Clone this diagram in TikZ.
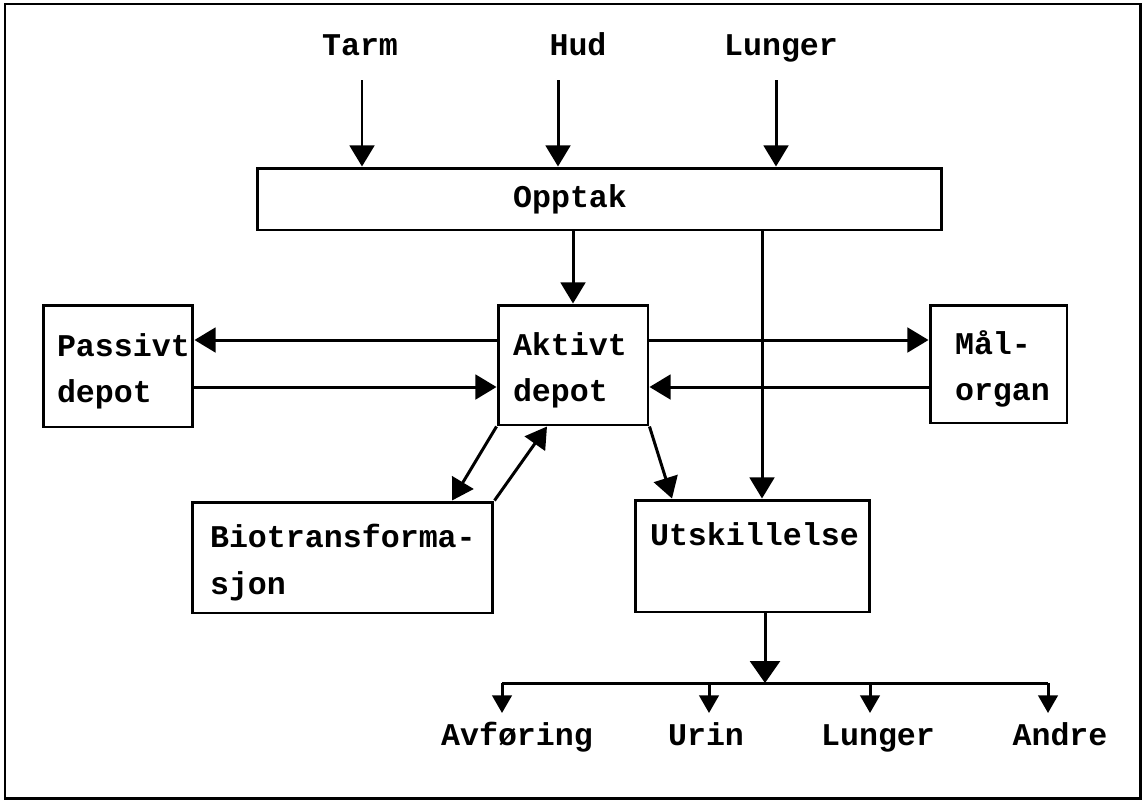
\documentclass[tikz,border=0pt]{standalone}
\usepackage{fontspec}
\setmonofont{Liberation Mono}
\usetikzlibrary{arrows.meta}
\begin{document}
\begin{tikzpicture}[x=0.02cm,y=-0.02cm,
  font=\ttfamily\bfseries\fontsize{18}{26.5}\selectfont,
  box/.style={draw,line width=1.7pt,align=left,inner xsep=0pt,inner ysep=0pt,text height=19pt},
  arr/.style={line width=1.7pt,-{Triangle[width=14pt,length=12pt]}},
  arrsmall/.style={line width=1.7pt,-{Triangle[width=11pt,length=10pt]}},
  arrbig/.style={line width=1.7pt,-{Triangle[width=17pt,length=12.5pt]}},
  ln/.style={line width=1.7pt},
  lbl/.style={inner sep=0pt,anchor=base}]
\useasboundingbox (0,0) rectangle (1145,805);
\draw[ln] (5,4) rectangle (1140,798);

% top labels
\node[lbl] (tarm) at (360,55) {Tarm};
\node[lbl] (hud) at (578,55) {Hud};
\node[lbl] (lungerT) at (781,55) {Lunger};

% boxes
\node[draw,line width=1.7pt,inner sep=0pt,minimum width=13.7cm,minimum height=1.24cm,
      label={[inner sep=0pt,xshift=-0.59cm]center:Opptak}] (opptak) at (599.5,199) {};
\node[box,minimum width=3cm,minimum height=2.44cm,text width=2.44cm] (passivt) at (118,366) {Passivt\\depot};
\node[box,minimum width=3cm,minimum height=2.4cm,text width=2.4cm] (aktivt) at (573,365) {Aktivt\\depot};
\node[box,minimum width=2.74cm,minimum height=2.36cm,text width=1.74cm] (mal) at (998.5,364) {Mål-\\organ};
\node[box,minimum width=6.02cm,minimum height=2.22cm,text width=5.3cm] (bio) at (342.5,557.5) {Biotransforma-\\sjon};
\node[box,minimum width=4.7cm,minimum height=2.24cm,text width=4.1cm,text height=20pt] (utsk) at (752.5,556) {Utskillelse\\[-3pt]\strut};

% bottom labels
\node[lbl] (avf) at (517,745) {Avføring};
\node[lbl] (urin) at (706,745) {Urin};
\node[lbl] (lungerB) at (878,745) {Lunger};
\node[lbl] (andre) at (1060,745) {Andre};

% helper coordinates
\coordinate (tA) at (362,80);
\coordinate (tB) at (558,80);
\coordinate (tC) at (776,80);
\coordinate (lx) at (762,0);
\coordinate (y1) at (0,340);
\coordinate (y2) at (0,387);
\coordinate (b1) at (452,0);
\coordinate (b2) at (547,0);
\coordinate (u1) at (672,0);
\coordinate (ux) at (765,0);
\coordinate (a1) at (502,683);
\coordinate (a2) at (709,683);
\coordinate (a3) at (870,683);
\coordinate (a4) at (1048,683);
\coordinate (tip) at (0,713);

% inputs
\draw[arr] (tA) -- (tA |- opptak.north);
\draw[arr] (tB) -- (tB |- opptak.north);
\draw[arr] (tC) -- (tC |- opptak.north);

\draw[arr] (opptak.south -| aktivt.north) -- (aktivt.north);
\draw[arr] (opptak.south -| lx) -- (utsk.north -| lx);

% depots
\draw[arr] (aktivt.west |- y1) -- (passivt.east |- y1);
\draw[arr] (passivt.east |- y2) -- (aktivt.west |- y2);
\draw[arr] (aktivt.east |- y1) -- (mal.west |- y1);
\draw[arr] (mal.west |- y2) -- (aktivt.east |- y2);

% biotransformation and excretion
\draw[arr] (aktivt.south west) -- (bio.north -| b1);
\draw[arr] (bio.north east) -- (aktivt.south -| b2);
\draw[arr] (aktivt.south east) -- (utsk.north -| u1);

% outputs
\draw[arrbig] (utsk.south -| ux) -- (ux |- a1);
\draw[ln] (a1) -- (a4);
\draw[arrsmall] (a1) -- (a1 |- tip);
\draw[arrsmall] (a2) -- (a2 |- tip);
\draw[arrsmall] (a3) -- (a3 |- tip);
\draw[arrsmall] (a4) -- (a4 |- tip);
\end{tikzpicture}
\end{document}
